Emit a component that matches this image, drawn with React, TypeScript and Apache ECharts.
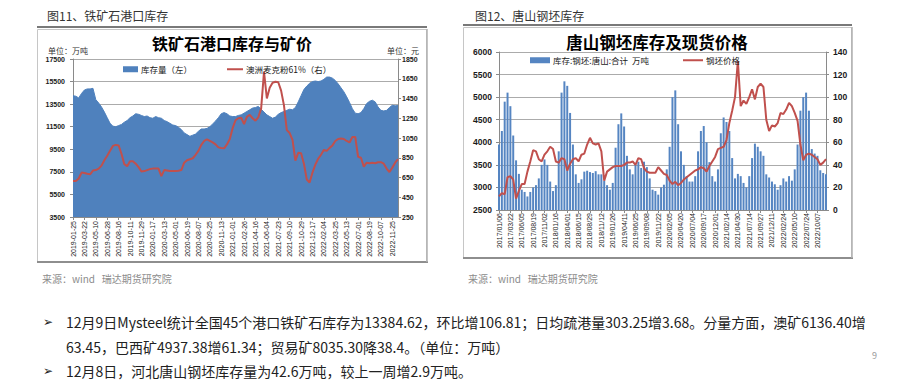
import React, { useEffect, useRef } from "react";
import * as echarts from "echarts";

// ---------- Figure 11: iron ore port inventory vs. price ----------
const portDateLabels = [
  "2019-01-25", "2019-03-22", "2019-05-10", "2019-06-28", "2019-08-16", "2019-10-11",
  "2019-11-29", "2020-01-17", "2020-03-13", "2020-05-01", "2020-06-19", "2020-08-07",
  "2020-09-25", "2020-11-13", "2021-01-01", "2021-02-26", "2021-04-16", "2021-06-04",
  "2021-07-23", "2021-09-10", "2021-10-29", "2021-12-17", "2022-02-04", "2022-03-25",
  "2022-05-13", "2022-07-01", "2022-08-19", "2022-10-07", "2022-11-25",
];

// 库存量（左）, 万吨
const portInventory = [
  14250, 14200, 14050, 14450, 14750, 14850, 14850, 14900, 13900, 13600,
  13250, 12800, 12300, 11800, 11550, 11500, 11600, 11700, 11900, 12050,
  12300, 12450, 12650, 12600, 12500, 12400, 12450, 12300, 12250, 12400,
  12300, 12250, 12050, 11950, 11800, 11650, 11600, 11450, 11250, 10950,
  10800, 10650, 10750, 10850, 11100, 11300, 11300, 11350, 11500, 11750,
  12000, 12300, 12650, 12750, 12650, 12450, 12400, 12400, 12500, 12550,
  12700, 12850, 13000, 13150, 13200, 13300, 13050, 12800, 12550, 12400,
  12250, 12350, 12600, 12750, 12850, 12950, 13050, 13000, 13200, 13700,
  14250, 14800, 15100, 15350, 15500, 15550, 15500, 15550, 15700, 15900,
  15900, 15800, 15600, 15300, 14950, 14600, 14150, 13650, 13100, 12700,
  12650, 12750, 13100, 13550, 13750, 13850, 13700, 13250, 12950, 12900,
  12950, 13200, 13400, 13350, 13380,
];

// 澳洲麦克粉61%（右）, 元
const portOrePrice = [
  615, 615, 640, 700, 695, 688, 682, 720, 725, 740,
  770, 825, 870, 920, 970, 980, 975, 890, 785, 765,
  815, 815, 790, 755, 710, 715, 725, 735, 740, 740,
  740, 665, 725, 720, 715, 715, 715, 718, 725, 800,
  825, 835, 845, 880, 920, 980, 1020, 1035, 1020, 1005,
  985, 955, 948, 945, 985, 1040, 1150, 1230, 1250, 1255,
  1190, 1265, 1285, 1250, 1225, 1260, 1350, 1720, 1450, 1560,
  1610, 1620, 1615, 1530, 1380, 1130, 1100, 1030, 820, 900,
  895, 790, 630, 600, 700, 780, 840, 880, 930, 920,
  950, 975, 1020, 1040, 1045, 1040, 1020, 1005, 1060, 1060,
  860, 850, 760, 800, 795, 800, 795, 805, 805, 790,
  740, 705, 750, 800, 835,
];

// ---------- Figure 12: Tangshan billet inventory vs. price ----------
const billetDateLabels = [
  "2017/01/06", "2017/03/22", "2017/06/05", "2017/08/19", "2017/11/02", "2018/01/16",
  "2018/04/01", "2018/06/15", "2018/08/29", "2018/11/12", "2019/01/26", "2019/04/11",
  "2019/06/25", "2019/09/08", "2019/11/22", "2020/02/05", "2020/04/20", "2020/07/04",
  "2020/09/17", "2020/12/01", "2021/02/14", "2021/04/30", "2021/07/14", "2021/09/27",
  "2021/12/11", "2022/02/24", "2022/05/10", "2022/07/24", "2022/10/07",
];

// 库存:钢坯:唐山:合计 万吨
const billetInventory = [
  3950, 4250, 4900, 5100, 4800, 4150, 3600, 3300, 2950, 2900,
  2800, 2900, 3000, 3050, 3200, 3500, 3620, 3500, 3130, 2920,
  3050, 3800, 5100, 5350, 5250, 4650, 3950, 3290, 3100, 3180,
  3350, 3370, 3340, 3320, 3360, 3290, 3290, 3150, 3050, 2950,
  3100, 3880, 4400, 4640, 4350, 3700, 3400, 3290, 3500, 3570,
  3430, 3570, 3450, 3200, 2950, 2920, 2840, 3000, 3060, 3400,
  3900, 5000, 5150, 4400, 3800, 3500, 3250, 3130, 3130, 3250,
  3800, 4250, 4360, 4000, 3560, 3250, 3130, 3400, 4200, 4550,
  4450, 4250, 3650, 3200, 3300, 3250, 3100, 3000, 3250, 3650,
  3970, 3900, 3800, 3700, 3290, 3220, 3130, 3070, 2950, 3050,
  3200, 3130, 3250, 3150, 3400, 3950, 4700, 5000, 5100, 4700,
  3850, 3750, 3700, 3380, 3320, 3290,
];

// 钢坯价格
const billetPrice = [
  12, 15, 14, 29, 30, 27, 10, 17, 23, 23,
  34, 43, 53, 52, 45, 43, 49, 52, 56, 54,
  43, 42, 46, 45, 35, 41, 45, 46, 43, 49,
  50, 58, 64, 59, 58, 59, 52, 26, 34, 36,
  38, 39, 39, 39, 40, 42, 42, 43, 40, 46,
  45, 37, 34, 33, 33, 33, 38, 35, 32, 31,
  26, 23, 25, 22, 24, 27, 29, 31, 33, 35,
  36, 38, 37, 34, 39, 43, 47, 54, 55, 56,
  62, 77, 88, 100, 132, 92, 97, 94, 100, 107,
  98, 109, 112, 109, 80, 70, 75, 74, 77, 86,
  85, 89, 95, 92, 86, 79, 58, 44, 49, 50,
  49, 47, 45, 40, 42, 45,
];

const bulletLines = [
  "12月9日Mysteel统计全国45个港口铁矿石库存为13384.62，环比增106.81；日均疏港量303.25增3.68。分量方面，澳矿6136.40增",
  "63.45，巴西矿4937.38增61.34；贸易矿8035.30降38.4。（单位：万吨）",
  "12月8日，河北唐山钢坯库存量为42.6万吨，较上一周增2.9万吨。",
];

const POINTS_PER_LABEL = 4;
const FONT = "'Noto Sans CJK SC', 'Noto Sans', 'DejaVu Sans', sans-serif";

function buildCategories(labels: string[], count: number): string[] {
  const out: string[] = [];
  for (let i = 0; i < count; i++) {
    out.push(i % POINTS_PER_LABEL === 0 ? labels[i / POINTS_PER_LABEL] || "" : "");
  }
  return out;
}

function txt(x: number, y: number, text: string, size: number, fill: string, extra: any = {}) {
  return {
    type: "text",
    x,
    y,
    silent: true,
    style: {
      text,
      fontSize: size,
      fontFamily: FONT,
      fill,
      textVerticalAlign: "middle",
      ...extra,
    },
  };
}

function hline(x1: number, x2: number, y: number, stroke: string, w: number) {
  return { type: "line", silent: true, shape: { x1, y1: y, x2, y2: y }, style: { stroke, lineWidth: w } };
}
function vline(x: number, y1: number, y2: number, stroke: string, w: number) {
  return { type: "line", silent: true, shape: { x1: x, y1, x2: x, y2 }, style: { stroke, lineWidth: w } };
}

export default function App() {
  const ref = useRef<HTMLDivElement>(null);

  useEffect(() => {
    if (!ref.current) return;
    const chart = echarts.init(ref.current, undefined, { renderer: "svg" });

    const portCats = buildCategories(portDateLabels, portInventory.length);
    const billetCats = buildCategories(billetDateLabels, billetInventory.length);

    const axisGray = "#8a8a8a";
    const gridGray = "#ababab";

    const yCommon = (gridIndex: number, min: number, max: number, interval: number, position: string, size: number, margin: number, split: boolean) => ({
      type: "value",
      gridIndex,
      min,
      max,
      interval,
      position,
      axisLine: { show: true, lineStyle: { color: axisGray, width: 1 } },
      axisTick: { show: true, length: 3, lineStyle: { color: axisGray } },
      axisLabel: {
        fontSize: size,
        fontWeight: "bold",
        color: "#1a1a1a",
        margin,
        fontFamily: "'Liberation Sans', Arial, sans-serif",
        formatter: (v: number) => String(v),
      },
      splitLine: { show: split, lineStyle: { color: gridGray, width: 1 } },
    });

    const xCommon = (gridIndex: number, data: string[], margin: number) => ({
      type: "category",
      gridIndex,
      data,
      boundaryGap: false,
      axisLine: { show: true, lineStyle: { color: axisGray, width: 1 } },
      axisTick: { show: true, interval: POINTS_PER_LABEL - 1, length: 3, lineStyle: { color: axisGray } },
      axisLabel: {
        interval: POINTS_PER_LABEL - 1,
        rotate: 90,
        fontSize: 7,
        color: "#1a1a1a",
        margin,
        fontFamily: "'Liberation Sans', Arial, sans-serif",
      },
      splitLine: { show: false },
    });

    const legendCommon = {
      orient: "horizontal",
      padding: 0,
      itemGap: 0,
      selectedMode: false,
      icon: "rect",
      itemStyle: { borderWidth: 0 },
      textStyle: { fontSize: 8.5, color: "#1a1a1a", fontFamily: FONT, padding: [0, 0, 0, -2] },
    };

    const option: any = {
      animation: false,
      backgroundColor: "#ffffff",
      textStyle: { fontFamily: FONT },
      grid: [
        { left: 73, right: 502, top: 59, height: 158, containLabel: false },
        { left: 499, right: 74, top: 52, height: 158, containLabel: false },
      ],
      xAxis: [xCommon(0, portCats, 4), xCommon(1, billetCats, 3)],
      yAxis: [
        yCommon(0, 3500, 17500, 2000, "left", 7, 8, true),
        yCommon(0, 250, 1850, 200, "right", 7, 4, false),
        yCommon(1, 2500, 6000, 500, "left", 8.5, 7, true),
        yCommon(1, 0, 140, 20, "right", 8.5, 7, false),
      ],
      legend: [
        { ...legendCommon, data: ["库存量（左）"], left: 123, top: 65, itemWidth: 15, itemHeight: 6 },
        { ...legendCommon, data: ["澳洲麦克粉61%（右）"], left: 227, top: 65, itemWidth: 16, itemHeight: 2 },
        { ...legendCommon, data: ["库存:钢坯:唐山:合计  万吨"], left: 530, top: 56, itemWidth: 20, itemHeight: 6 },
        { ...legendCommon, data: ["钢坯价格"], left: 683, top: 56, itemWidth: 20, itemHeight: 2 },
      ],
      series: [
        {
          name: "库存量（左）",
          type: "line",
          xAxisIndex: 0,
          yAxisIndex: 0,
          data: portInventory,
          color: "#4f81bd",
          itemStyle: { color: "#4f81bd" },
          showSymbol: false,
          symbol: "none",
          lineStyle: { width: 1, color: "#4f81bd" },
          areaStyle: { color: "#4f81bd", opacity: 1, origin: "start" },
          z: 2,
        },
        {
          name: "澳洲麦克粉61%（右）",
          type: "line",
          xAxisIndex: 0,
          yAxisIndex: 1,
          data: portOrePrice,
          color: "#c0504d",
          itemStyle: { color: "#c0504d" },
          showSymbol: false,
          symbol: "none",
          lineStyle: { width: 2, color: "#c0504d" },
          z: 3,
        },
        {
          name: "库存:钢坯:唐山:合计  万吨",
          type: "bar",
          xAxisIndex: 1,
          yAxisIndex: 2,
          data: billetInventory,
          barWidth: "70%",
          clip: true,
          color: "#4f81bd",
          itemStyle: { color: "#5585c2" },
          z: 2,
        },
        {
          name: "钢坯价格",
          type: "line",
          xAxisIndex: 1,
          yAxisIndex: 3,
          data: billetPrice,
          color: "#c0504d",
          itemStyle: { color: "#c0504d" },
          showSymbol: false,
          symbol: "none",
          lineStyle: { width: 2, color: "#c0504d" },
          z: 3,
        },
      ],
      graphic: [
        // ---- left figure ----
        txt(47, 15, "图11、铁矿石港口库存", 12, "#333333"),
        hline(37, 427, 27, "#4d4d4d", 1.6),
        { type: "rect", silent: true, shape: { x: 37.5, y: 29.5, width: 389, height: 232 }, style: { fill: "none", stroke: "#c6c6c6", lineWidth: 1 } },
        hline(37, 428, 262, "#8e8e8e", 2),
        vline(427, 29, 262, "#b0b0b0", 1.5),
        txt(232, 43, "铁矿石港口库存与矿价", 16, "#000000", { textAlign: "center", fontWeight: "bold" }),
        txt(48, 50, "单位：万吨", 8, "#333333"),
        txt(387, 50, "单位：元", 8, "#333333"),
        txt(42, 278, "来源：wind   瑞达期货研究院", 10, "#8c8c8c"),
        // ---- right figure ----
        txt(475, 15, "图12、唐山钢坯库存", 12, "#333333"),
        hline(463, 852, 25, "#4d4d4d", 1.6),
        { type: "rect", silent: true, shape: { x: 463.5, y: 27.5, width: 388, height: 230 }, style: { fill: "none", stroke: "#c6c6c6", lineWidth: 1 } },
        hline(463, 853, 258, "#8e8e8e", 2),
        vline(852, 27, 258, "#b0b0b0", 1.5),
        txt(657, 42, "唐山钢坯库存及现货价格", 16.5, "#000000", { textAlign: "center", fontWeight: "bold" }),
        txt(468, 278, "来源：wind   瑞达期货研究院", 10, "#8c8c8c"),
        // ---- bullets ----
        txt(43, 322, "➢", 12, "#222222", { fontFamily: "'DejaVu Sans', sans-serif" }),
        txt(66, 322, bulletLines[0], 14, "#222222"),
        txt(66, 347, bulletLines[1], 14, "#222222"),
        txt(43, 371, "➢", 12, "#222222", { fontFamily: "'DejaVu Sans', sans-serif" }),
        txt(66, 371, bulletLines[2], 14, "#222222"),
        txt(872, 355, "9", 9, "#999999"),
      ],
    };

    chart.setOption(option);
    return () => {
      chart.dispose();
    };
  }, []);

  return (
    <div
      ref={ref}
      style={{ position: "absolute", left: 0, top: 0, width: 900, height: 385, background: "#ffffff" }}
    />
  );
}
